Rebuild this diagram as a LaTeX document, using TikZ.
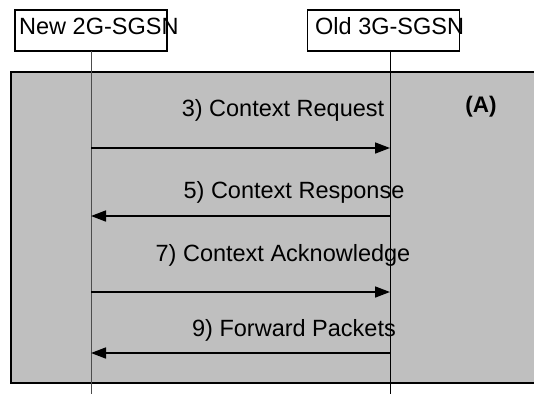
\documentclass[tikz,border=0pt]{standalone}
\usepackage{fontspec}
\setmainfont{Liberation Sans}
\usetikzlibrary{arrows.meta}

\tikzset{
    actor/.style={draw, line width=1.2pt, minimum width=152pt, minimum height=41pt, inner sep=0pt},
    msg/.style={line width=1.6pt, -{Triangle[length=15pt, width=11pt]}},
    msglabel/.style={anchor=base, inner sep=0pt, font=\fontsize{23.5}{27}\selectfont},
}

\begin{document}
\begin{tikzpicture}[x=1pt, y=-1pt]
    \useasboundingbox (0,0) rectangle (534,394);

    % Shaded phase
    \draw[line width=1.5pt, fill=gray!50] (11,72) rectangle (570,383);

    % Entities
    \node[actor] (new) at (91,30.5) {};
    \node[actor] (old) at (383.5,30.5) {};
    \node[msglabel, anchor=base west] (newlbl) at (19,34.5) {New 2G-SGSN};
    \node[msglabel, anchor=base west] (oldlbl) at (315,34.5) {Old 3G-SGSN};

    % Lifelines
    \coordinate (newtop) at (91,51);
    \coordinate (newend) at (91,394);
    \coordinate (oldtop) at (390,51);
    \coordinate (oldend) at (390,394);
    \draw[gray!60!black] (newtop) -- (newend);
    \draw (oldtop) -- (oldend);

    % Message points
    \foreach \y/\m in {148/a, 216/b, 292/c, 353/d} {
        \coordinate (n\m) at (91,\y);
        \coordinate (o\m) at (390,\y);
    }

    % Messages
    \draw[msg] (na) -- (oa);
    \draw[msg] (ob) -- (nb);
    \draw[msg] (nc) -- (oc);
    \draw[msg] (od) -- (nd);

    % Labels
    \node[msglabel] (req) at (283,116.5) {3) Context Request};
    \node[msglabel] (resp) at (294,198) {5) Context Response};
    \node[msglabel] (ack) at (283,261) {7) Context Acknowledge};
    \node[msglabel] (fwd) at (294,336) {9) Forward Packets};
    \node[msglabel, font=\fontsize{22.5}{26}\selectfont\bfseries] (phase) at (481,112) {(A)};
\end{tikzpicture}
\end{document}
